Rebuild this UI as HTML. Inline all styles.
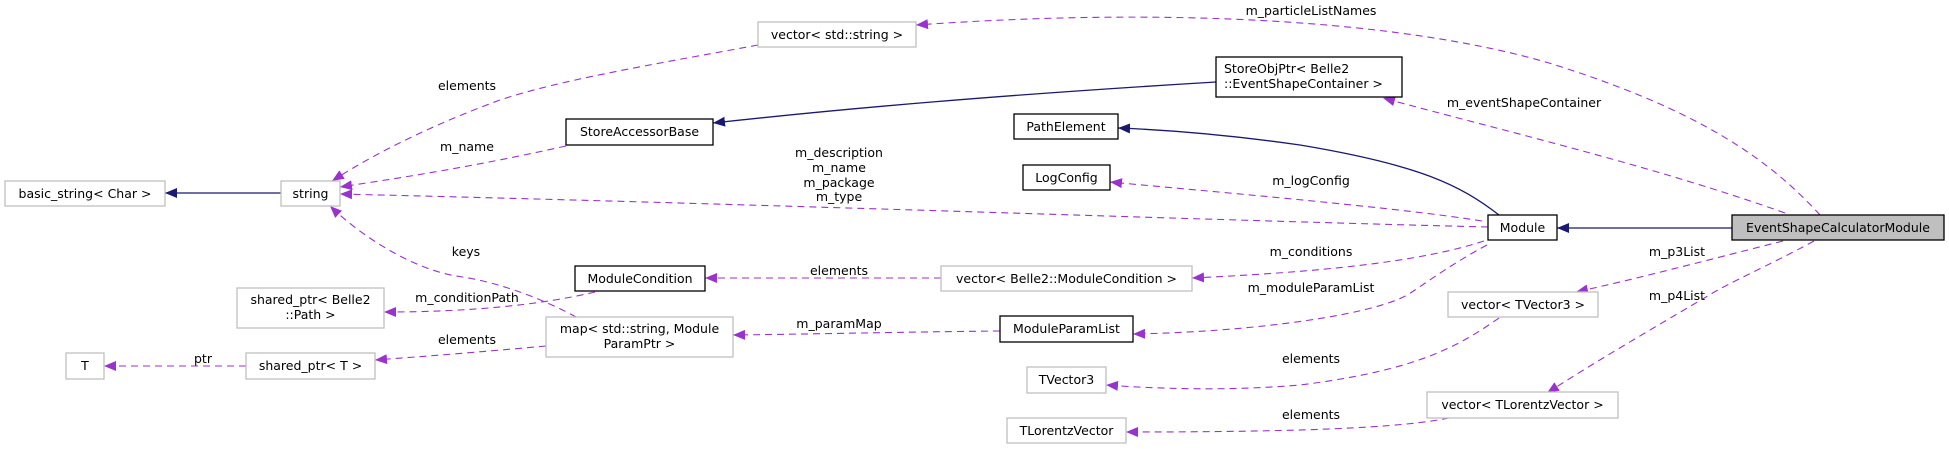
<!DOCTYPE html>
<html><head><meta charset="utf-8"><style>
html,body{margin:0;padding:0;background:#fff;}
svg{display:block;}
text{font-family:"DejaVu Sans","Liberation Sans",sans-serif;font-size:12.5px;fill:#000;}
.p{fill:none;stroke:#9a32cd;stroke-width:1.1;stroke-dasharray:7,5;}
.n{fill:none;stroke:#191970;stroke-width:1.3;}
.bk{fill:#fff;stroke:#000;stroke-width:1.3;}
.gr{fill:#fff;stroke:#bfbfbf;stroke-width:1.3;}
</style></head><body>
<svg width="1949" height="449" viewBox="0 0 1949 449" xmlns="http://www.w3.org/2000/svg">
<defs>
<marker id="ap" markerUnits="userSpaceOnUse" markerWidth="13" markerHeight="10" refX="12" refY="5" orient="auto"><path d="M0,0 L12,5 L0,10 Z" fill="#9a32cd"/></marker>
<marker id="an" markerUnits="userSpaceOnUse" markerWidth="13" markerHeight="10" refX="12" refY="5" orient="auto"><path d="M0,0 L12,5 L0,10 Z" fill="#191970"/></marker>
</defs>

<!-- edges -->
<path class="n" d="M281,193 L165,193" marker-end="url(#an)"/>
<path class="p" d="M758,45 C650,65 560,80 500,100 C440,122 380,150 332,181" marker-end="url(#ap)"/>
<path class="p" d="M566,146 C480,165 420,175 340,187" marker-end="url(#ap)"/>
<path class="p" d="M1488,227 C1200,220 800,205 340,194" marker-end="url(#ap)"/>
<path class="p" d="M576,317 C545,300 500,282 456,276 C410,268 360,235 330,206" marker-end="url(#ap)"/>
<path class="p" d="M595,292 C540,305 470,312 384,312" marker-end="url(#ap)"/>
<path class="p" d="M546,346 C480,352 430,356 375,360" marker-end="url(#ap)"/>
<path class="p" d="M246,366 L104,366" marker-end="url(#ap)"/>
<path class="n" d="M1216,82 C1000,95 850,108 713,123" marker-end="url(#an)"/>
<path class="p" d="M1820,215 C1770,160 1700,110 1549,63 C1420,25 1200,5 916,25" marker-end="url(#ap)"/>
<path class="p" d="M1785,213 C1650,165 1500,130 1383,98" marker-end="url(#ap)"/>
<path class="n" d="M1499,215 C1460,185 1420,165 1300,145 C1230,135 1170,130 1118,128" marker-end="url(#an)"/>
<path class="p" d="M1482,221 C1400,208 1250,195 1110,182" marker-end="url(#ap)"/>
<path class="n" d="M1732,228 L1557,228" marker-end="url(#an)"/>
<path class="p" d="M1484,241 C1420,262 1320,272 1192,278" marker-end="url(#ap)"/>
<path class="p" d="M941,278 L705,278" marker-end="url(#ap)"/>
<path class="p" d="M1487,245 C1455,262 1430,280 1412,292 C1380,315 1250,332 1133,334" marker-end="url(#ap)"/>
<path class="p" d="M1000,331 C900,332 820,334 733,335" marker-end="url(#ap)"/>
<path class="p" d="M1783,241 C1700,262 1640,278 1576,292" marker-end="url(#ap)"/>
<path class="p" d="M1814,241 C1770,265 1730,282 1706,297 C1650,330 1590,365 1547,393" marker-end="url(#ap)"/>
<path class="p" d="M1499,318 C1460,345 1420,370 1300,385 C1230,391 1160,389 1106,385" marker-end="url(#ap)"/>
<path class="p" d="M1449,418 C1400,428 1300,432 1126,432" marker-end="url(#ap)"/>

<!-- nodes -->
<rect class="gr" x="5" y="181" width="160" height="25"/><text x="85" y="198" text-anchor="middle">basic_string&lt; Char &gt;</text>
<rect class="gr" x="281" y="181" width="59" height="25"/><text x="310.5" y="198" text-anchor="middle">string</text>
<rect class="gr" x="66" y="353" width="38" height="26"/><text x="85" y="370" text-anchor="middle">T</text>
<rect class="gr" x="246" y="353" width="129" height="26"/><text x="310.5" y="370" text-anchor="middle">shared_ptr&lt; T &gt;</text>
<rect class="gr" x="237" y="288" width="147" height="40"/><text x="310.5" y="304" text-anchor="middle">shared_ptr&lt; Belle2</text><text x="310.5" y="319" text-anchor="middle">::Path &gt;</text>
<rect class="gr" x="546" y="317" width="187" height="40"/><text x="639.5" y="333" text-anchor="middle">map&lt; std::string, Module</text><text x="639.5" y="348" text-anchor="middle">ParamPtr &gt;</text>
<rect class="bk" x="566" y="119" width="147" height="26"/><text x="639.5" y="136" text-anchor="middle">StoreAccessorBase</text>
<rect class="bk" x="575" y="266" width="130" height="25"/><text x="640" y="283" text-anchor="middle">ModuleCondition</text>
<rect class="gr" x="758" y="22" width="158" height="25"/><text x="837" y="39" text-anchor="middle">vector&lt; std::string &gt;</text>
<rect class="bk" x="1216" y="57" width="186" height="40"/><text x="1224" y="73">StoreObjPtr&lt; Belle2</text><text x="1224" y="88">::EventShapeContainer &gt;</text>
<rect class="bk" x="1014" y="114" width="104" height="25"/><text x="1066" y="131" text-anchor="middle">PathElement</text>
<rect class="bk" x="1023" y="165" width="87" height="25"/><text x="1066.5" y="182" text-anchor="middle">LogConfig</text>
<rect class="gr" x="941" y="266" width="251" height="25"/><text x="1066.5" y="283" text-anchor="middle">vector&lt; Belle2::ModuleCondition &gt;</text>
<rect class="bk" x="1000" y="316" width="133" height="26"/><text x="1066.5" y="333" text-anchor="middle">ModuleParamList</text>
<rect class="gr" x="1027" y="367" width="79" height="26"/><text x="1066.5" y="384" text-anchor="middle">TVector3</text>
<rect class="gr" x="1007" y="418" width="119" height="25"/><text x="1066.5" y="435" text-anchor="middle">TLorentzVector</text>
<rect class="bk" x="1488" y="215" width="69" height="25"/><text x="1522.5" y="232" text-anchor="middle">Module</text>
<rect x="1732" y="215" width="212" height="25" fill="#bfbfbf" stroke="#000" stroke-width="1.3"/><text x="1838" y="232" text-anchor="middle">EventShapeCalculatorModule</text>
<rect class="gr" x="1448" y="292" width="150" height="25"/><text x="1523" y="309" text-anchor="middle">vector&lt; TVector3 &gt;</text>
<rect class="gr" x="1427" y="392" width="191" height="26"/><text x="1522.5" y="409" text-anchor="middle">vector&lt; TLorentzVector &gt;</text>

<!-- edge labels -->
<g text-anchor="middle">
<text x="467" y="90">elements</text>
<text x="467" y="151">m_name</text>
<text x="466" y="256">keys</text>
<text x="467" y="302">m_conditionPath</text>
<text x="467" y="344">elements</text>
<text x="203" y="363">ptr</text>
<text x="839" y="157">m_description</text>
<text x="839" y="172">m_name</text>
<text x="839" y="187">m_package</text>
<text x="839" y="201">m_type</text>
<text x="839" y="275">elements</text>
<text x="839" y="328">m_paramMap</text>
<text x="1311" y="15">m_particleListNames</text>
<text x="1524" y="107">m_eventShapeContainer</text>
<text x="1311" y="185">m_logConfig</text>
<text x="1311" y="256">m_conditions</text>
<text x="1311" y="292">m_moduleParamList</text>
<text x="1311" y="363">elements</text>
<text x="1311" y="419">elements</text>
<text x="1677" y="256">m_p3List</text>
<text x="1677" y="300">m_p4List</text>
</g>
</svg>
</body></html>
